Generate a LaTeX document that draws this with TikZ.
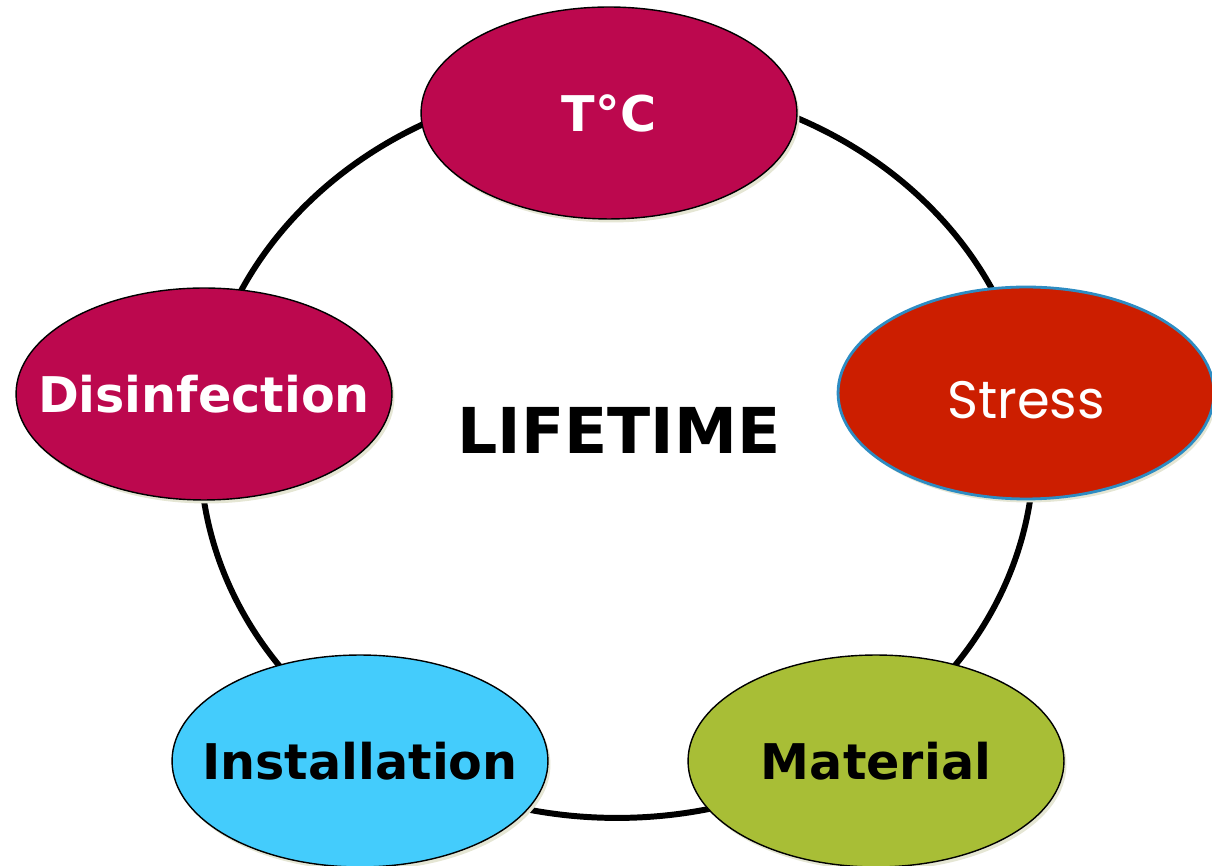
\documentclass[tikz,border=0pt]{standalone}
\usepackage{fontspec}
\usepackage{xcolor}
\usepackage{tikz}
\usetikzlibrary{shapes.geometric}
\usetikzlibrary{shadows}

\newfontfamily\verdfont{DejaVu Sans}
\newfontfamily\roundfont{Poppins}

\definecolor{berry}{RGB}{188,8,78}
\definecolor{brick}{RGB}{204,30,0}
\definecolor{rimblue}{RGB}{45,140,195}
\definecolor{sky}{RGB}{68,204,252}
\definecolor{moss}{RGB}{168,190,54}
\definecolor{shade}{RGB}{229,230,212}

% keeps long words from stretching the ellipses
\newcommand{\nowidth}[1]{\makebox[0pt]{#1}}

\tikzset{
  factor/.style={ellipse, draw=black, line width=0.8pt, inner sep=0pt,
    minimum width=7.52cm, minimum height=4.24cm,
    drop shadow={shadow xshift=0.05cm, shadow yshift=-0.07cm, fill=shade, opacity=1},
    font=\verdfont\bfseries\fontsize{28}{32}\selectfont},
  ring/.style={draw=black, line width=3.4pt}
}

\begin{document}
\begin{tikzpicture}[x=0.02cm, y=0.02cm]
            \useasboundingbox (0,0) rectangle (1212,865);

            % The loop behind everything, then the title in the middle
            \coordinate (hub) at (617,415);
            \draw[ring] (hub) ellipse [x radius=8.34cm, y radius=7.36cm];
            \node[font=\verdfont\bfseries\fontsize{36}{40}\selectfont] (life) at (619,435) {LIFETIME};

            % The five factors sitting on the loop
            \node[factor, fill=berry, text=white] (temp) at (609,752) {\nowidth{T°C}};
            \node[factor, fill=brick, draw=rimblue, line width=1.6pt, text=white,
                  font=\roundfont\fontsize{30}{34}\selectfont] (stress) at (1026,472)
                  {\nowidth{\raisebox{-0.14cm}[\height][0pt]{Stress}}};
            \node[factor, fill=berry, text=white] (disinf) at (204,471) {\nowidth{Disinfection}};
            \node[factor, fill=sky, text=black] (install) at (360,104) {\nowidth{Installation}};
            \node[factor, fill=moss, text=black] (material) at (876,104) {\nowidth{Material}};
        \end{tikzpicture}
\end{document}
